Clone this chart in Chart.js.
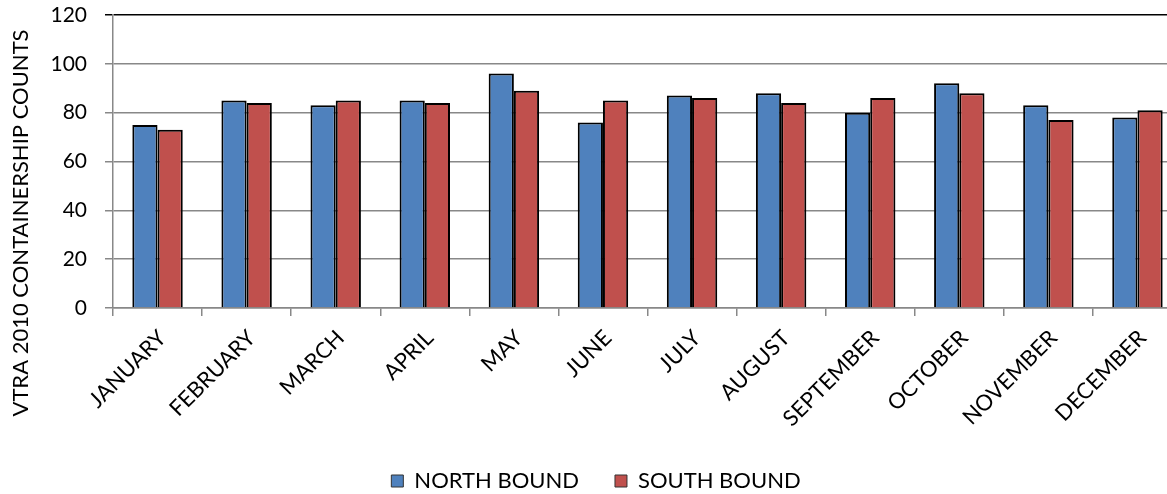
<!DOCTYPE html>
<html>
<head>
<meta charset="utf-8">
<script src="https://cdn.jsdelivr.net/npm/chart.js@4/dist/chart.umd.min.js"></script>
<style>
    html, body { margin: 0; padding: 0; background: #fff; overflow: hidden; }
    .chart-box { position: relative; width: 1185px; height: 494px; }
</style>
</head>
<body>
<div class="chart-box"><canvas id="chart-bars"></canvas></div>
<script>
const months = ['JANUARY', 'FEBRUARY', 'MARCH', 'APRIL', 'MAY', 'JUNE', 'JULY', 'AUGUST', 'SEPTEMBER', 'OCTOBER', 'NOVEMBER', 'DECEMBER'];
const northBound = [75, 85, 83, 85, 96, 76, 87, 88, 80, 92, 83, 78];
const southBound = [73, 84, 85, 84, 89, 85, 86, 84, 86, 88, 77, 81];
const yTicks = [0, 20, 40, 60, 80, 100, 120];
const yTitle = 'VTRA 2010 CONTAINERSHIP COUNTS';

const fontFamily = 'Lato, "Open Sans", sans-serif';
const gridGray = '#888888';

// y title is drawn by hand so it can sit lower than the plot centre, like the original
const yTitlePlugin = {
    id: 'yTitle',
    afterDraw(chart) {
        const ctx = chart.ctx;
        ctx.save();
        ctx.translate(21, 223);
        ctx.rotate(-Math.PI / 2);
        ctx.font = '22px ' + fontFamily;
        ctx.fillStyle = '#000';
        ctx.textAlign = 'center';
        ctx.textBaseline = 'middle';
        ctx.fillText(yTitle, 0, 0);
        ctx.restore();
    }
};

const ctx = document.querySelector('#chart-bars').getContext('2d');
new Chart(ctx, {
    type: 'bar',
    data: {
        labels: months,
        datasets: [{
            label: 'NORTH BOUND',
            data: northBound,
            backgroundColor: '#4F81BD',
            borderColor: '#000',
            borderWidth: 2,
            borderSkipped: 'start',
            categoryPercentage: 0.566,
            barPercentage: 1.0,
        }, {
            label: 'SOUTH BOUND',
            data: southBound,
            backgroundColor: '#C0504D',
            borderColor: '#000',
            borderWidth: 2,
            borderSkipped: 'start',
            categoryPercentage: 0.566,
            barPercentage: 1.0,
        }]
    },
    options: {
        responsive: true,
        maintainAspectRatio: false,
        animation: false,
        layout: { padding: { top: 15, right: 3, left: 10, bottom: -8 } },
        plugins: {
            legend: {
                position: 'bottom',
                labels: {
                    color: '#000',
                    font: { family: fontFamily, size: 22 },
                    boxWidth: 12,
                    boxHeight: 12,
                    padding: 36,
                    generateLabels(chart) {
                        return chart.data.datasets.map((ds, i) => ({
                            text: ds.label,
                            fillStyle: ds.backgroundColor,
                            strokeStyle: '#333',
                            lineWidth: 1,
                            datasetIndex: i,
                            hidden: false,
                        }));
                    }
                }
            },
            tooltip: { enabled: false }
        },
        scales: {
            x: {
                grid: {
                    display: true,
                    drawOnChartArea: false,
                    drawTicks: true,
                    tickLength: 8,
                    color: gridGray,
                    lineWidth: 1.5,
                },
                border: { color: gridGray, width: 1.5 },
                ticks: {
                    color: '#000',
                    font: { family: fontFamily, size: 22 },
                    minRotation: 45,
                    maxRotation: 45,
                    autoSkip: false,
                    padding: 9,
                    labelOffset: 5,
                },
                afterFit(scale) { scale.height = 126; }
            },
            y: {
                min: 0,
                max: 120,
                afterBuildTicks(scale) { scale.ticks = yTicks.map(v => ({ value: v })); },
                grid: {
                    color: c => c.tick && c.tick.value === 120 ? '#000' : gridGray,
                    lineWidth: 1.5,
                    tickLength: 8,
                },
                border: { color: gridGray, width: 1.5 },
                ticks: {
                    color: '#000',
                    font: { family: fontFamily, size: 21 },
                    padding: 18,
                },
                afterFit(scale) {
                    scale.width = 103;
                    // tick padding should not push the plot top down
                    scale.paddingTop = 12;
                    scale.paddingBottom = 12;
                }
            }
        }
    },
    plugins: [yTitlePlugin]
});
</script>
</body>
</html>
